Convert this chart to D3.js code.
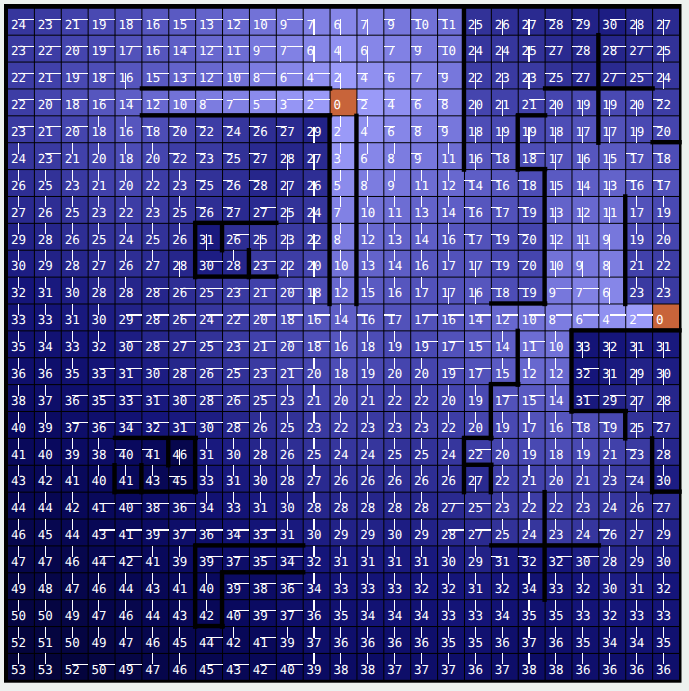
<!DOCTYPE html>
<html>
<head>
<meta charset="utf-8">
<script src="https://cdn.jsdelivr.net/npm/d3@7"></script>
<style>
  html, body { margin: 0; padding: 0; background: #edf1ef; }
  svg { display: block; }
</style>
</head>
<body>
<svg id="chart" width="689" height="691"></svg>
<script>
// ---------------- data ----------------
const rowIds = d3.range(25);
const colIds = d3.range(25);

// distance value of every cell, row by row
const distances = [
  [24,23,21,19,18,16,15,13,12,10,9,7,6,7,9,10,11,25,26,27,28,29,30,28,27],
  [23,22,20,19,17,16,14,12,11,9,7,6,4,6,7,9,10,24,24,25,27,28,28,27,25],
  [22,21,19,18,16,15,13,12,10,8,6,4,2,4,6,7,9,22,23,23,25,27,27,25,24],
  [22,20,18,16,14,12,10,8,7,5,3,2,0,2,4,6,8,20,21,21,20,19,19,20,22],
  [23,21,20,18,16,18,20,22,24,26,27,29,2,4,6,8,9,18,19,19,18,17,17,19,20],
  [24,23,21,20,18,20,22,23,25,27,28,27,3,6,8,9,11,16,18,18,17,16,15,17,18],
  [26,25,23,21,20,22,23,25,26,28,27,26,5,8,9,11,12,14,16,18,15,14,13,16,17],
  [27,26,25,23,22,23,25,26,27,27,25,24,7,10,11,13,14,16,17,19,13,12,11,17,19],
  [29,28,26,25,24,25,26,31,26,25,23,22,8,12,13,14,16,17,19,20,12,11,9,19,20],
  [30,29,28,27,26,27,28,30,28,23,22,20,10,13,14,16,17,17,19,20,10,9,8,21,22],
  [32,31,30,28,28,28,26,25,23,21,20,18,12,15,16,17,17,16,18,19,9,7,6,23,23],
  [33,33,31,30,29,28,26,24,22,20,18,16,14,16,17,17,16,14,12,10,8,6,4,2,0],
  [35,34,33,32,30,28,27,25,23,21,20,18,16,18,19,19,17,15,14,11,10,33,32,31,31],
  [36,36,35,33,31,30,28,26,25,23,21,20,18,19,20,20,19,17,15,12,12,32,31,29,30],
  [38,37,36,35,33,31,30,28,26,25,23,21,20,21,22,22,20,19,17,15,14,31,29,27,28],
  [40,39,37,36,34,32,31,30,28,26,25,23,22,23,23,23,22,20,19,17,16,18,19,25,27],
  [41,40,39,38,40,41,46,31,30,28,26,25,24,24,25,25,24,22,20,19,18,19,21,23,28],
  [43,42,41,40,41,43,45,33,31,30,28,27,26,26,26,26,26,27,22,21,20,21,23,24,30],
  [44,44,42,41,40,38,36,34,33,31,30,28,28,28,28,28,27,25,23,22,22,23,24,26,27],
  [46,45,44,43,41,39,37,36,34,33,31,30,29,29,30,29,28,27,25,24,23,24,26,27,29],
  [47,47,46,44,42,41,39,39,37,35,34,32,31,31,31,31,30,29,31,32,32,30,28,29,30],
  [49,48,47,46,44,43,41,40,39,38,36,34,33,33,33,32,32,31,32,34,33,32,30,31,32],
  [50,50,49,47,46,44,43,42,40,39,37,36,35,34,34,34,33,33,34,35,35,33,32,33,33],
  [52,51,50,49,47,46,45,44,42,41,39,37,36,36,36,36,35,35,36,37,36,35,34,34,35],
  [53,53,52,50,49,47,46,45,43,42,40,39,38,38,37,37,37,36,37,38,38,36,36,36,36]
];

// direction to the parent cell (U D L R, '.' = source)
const parents = [
  "RRRRRRRRRRRDDDLLLDDDLLRDD",
  "RRRRRRRRRRRDDDLLLDDDLLRRD",
  "RRRRDRRRRRRRDLLLLDDDLLRRD",
  "RRRRRRRRRRRR.LLLLDDRDDDDL",
  "RRRUULLLLLLDUULLLDDDDDDDL",
  "URUUUULLLLDDUUULUDLRDDDLL",
  "UUUUUUULLLDDUUUUULLLDDDLL",
  "UUUUUUULLRDDUUUUULLLDDDUU",
  "UUUUUUUDRDDDUUUUULLLDDDUU",
  "UUUUUUDRURDDUUUUUDLLDDDUU",
  "UUUUURRRRRRDUUUUDDLLRRDUU",
  "UUUURRRRRRRRULLRRRRRRRRR.",
  "UUUURRRRRRRRUUURRRURUDDDD",
  "UUURRRRRRRRUUUUURRUUURDDD",
  "UURRRRRRRRUUUUUUUURRURRDD",
  "UURRRRRRRUUUUUUUUUUUULLDL",
  "UUUULLDUUUUUUUUUURUUUUULU",
  "UUUUUULUUUUUUUUUUDUUUUULU",
  "UUURRRRUUUUUUUUURRUUUUUUL",
  "UUURRRRRRRUUUUUURRUUUULUU",
  "UUURRUURRRRUUUUUUULLRRUUU",
  "UUUUUUUURRRUUUUUUUUUUUUUU",
  "UUUUUUUURRRUUUUUUUUUUUUUU",
  "UUUUUUURURUUUUUUUUUUUUUUU",
  "UURRRUURRRRUUUUUUUUUUUUUU"
];

// horizontal walls: [boundary row, first col, last col]
const hWalls = [
  [3,5,11],[4,5,11],[8,7,9],[10,7,9],[3,20,23],[4,19,19],[6,19,19],
  [11,18,19],[12,21,24],[15,21,22],[14,18,18],[16,17,17],[17,17,17],
  [18,24,24],[16,4,6],[18,4,6],[20,7,10],[21,8,10],[23,7,7],[20,18,21],[5,24,24]
];
// vertical walls: [boundary col, first row, last row]
const vWalls = [
  [12,4,10],[13,4,10],[7,8,9],[8,8,8],[9,9,9],[17,0,5],[22,1,4],[19,4,5],
  [20,6,10],[23,7,10],[21,12,14],[19,12,13],[18,14,15],[17,16,17],[18,17,17],
  [24,16,17],[23,15,15],[6,16,16],[7,16,17],[5,17,17],[4,17,17],[7,20,22],
  [8,21,22],[20,18,21]
];

// colour anchors
const colorStops = [2, 8, 14, 20, 26, 32, 40, 53];
const colorRange = ["#9a9af8","#7c7ce0","#5e5ec6","#4545ae","#2e2e94","#15157a","#09095e","#04043a"];
const sourceColor = "#c8643a";

// ---------------- drawing ----------------
const svg = d3.select("#chart");
const x = d3.scaleBand().domain(colIds).range([7.5, 679.5]);
const y = d3.scaleBand().domain(rowIds).range([8.3, 680.3]);
const cw = x.bandwidth(), ch = y.bandwidth();
const color = d3.scaleLinear().domain(colorStops).range(colorRange).clamp(true);

const cells = [];
rowIds.forEach(r => colIds.forEach(c => {
  cells.push({r, c, v: distances[r][c], dir: parents[r][c]});
}));

// frame
svg.append("rect")
  .attr("x", 4).attr("y", 4)
  .attr("width", 681.5 - 4).attr("height", 682.7 - 4)
  .attr("fill", "#000");

const g = svg.append("g");

g.selectAll("rect.cell").data(cells).join("rect")
  .attr("class", "cell")
  .attr("x", d => x(d.c) + 0.5)
  .attr("y", d => y(d.r) + 0.5)
  .attr("width", cw - 1)
  .attr("height", ch - 1)
  .attr("fill", d => d.v === 0 ? sourceColor : color(d.v));

const ax = 10.8, ay = 11;
function seg(d) {
  const x0 = x(d.c), y0 = y(d.r);
  const px = x0 + ax, py = y0 + ay;
  switch (d.dir) {
    case "R": return [px, py, x0 + cw, py];
    case "L": return [x0, py, px, py];
    case "U": return [px, y0, px, py];
    case "D": return [px, py, px, y0 + ch];
    default: return null;
  }
}
g.selectAll("line.dir").data(cells.filter(d => d.dir !== ".")).join("line")
  .attr("class", "dir")
  .attr("x1", d => seg(d)[0]).attr("y1", d => seg(d)[1])
  .attr("x2", d => seg(d)[2]).attr("y2", d => seg(d)[3])
  .attr("stroke", "#fff").attr("stroke-width", 1.1)
  .attr("shape-rendering", "crispEdges");

g.selectAll("text.val").data(cells).join("text")
  .attr("class", "val")
  .attr("x", d => x(d.c) + 3.4)
  .attr("y", d => y(d.r) + 20.2)
  .attr("fill", "#fff")
  .attr("font-family", "DejaVu Sans Mono, monospace")
  .attr("font-size", 12.5)
  .style("-webkit-font-smoothing", "antialiased")
  .attr("text-rendering", "geometricPrecision")
  .text(d => d.v);

// walls
const wt = 4.4;
g.selectAll("rect.hwall").data(hWalls).join("rect")
  .attr("class", "hwall")
  .attr("x", d => x(d[1]) - wt / 2)
  .attr("y", d => y.range()[0] + d[0] * ch - wt / 2 - 0.5)
  .attr("width", d => (d[2] - d[1] + 1) * cw + wt)
  .attr("height", wt)
  .attr("fill", "#000");
g.selectAll("rect.vwall").data(vWalls).join("rect")
  .attr("class", "vwall")
  .attr("x", d => x.range()[0] + d[0] * cw - wt / 2 - 0.5)
  .attr("y", d => y(d[1]) - wt / 2)
  .attr("width", wt)
  .attr("height", d => (d[2] - d[1] + 1) * ch + wt)
  .attr("fill", "#000");
</script>
</body>
</html>
